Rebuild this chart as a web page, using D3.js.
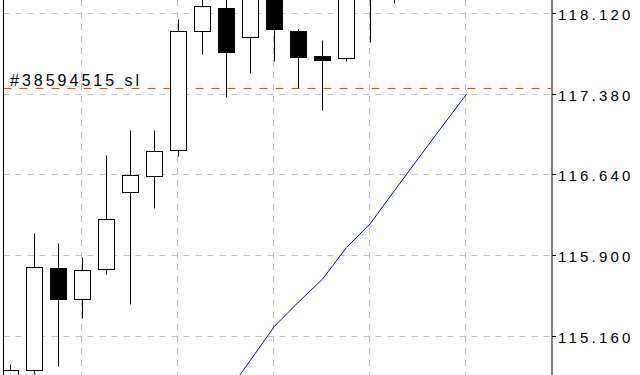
<!DOCTYPE html>
<html>
<head>
<meta charset="utf-8">
<script src="https://cdn.jsdelivr.net/npm/d3@7"></script>
<style>
html,body{margin:0;padding:0;background:#fff;}
svg{display:block;}
</style>
</head>
<body>
<svg id="chart" width="640" height="375"></svg>
<script>
// ---- data ----
const opens  = [114.660,114.847,115.777,115.491,115.767,116.476,116.623,116.863,117.958,118.172,117.903,118.300,117.961,117.731,117.710,118.400,118.600,118.800,118.950,119.100];
const highs  = [114.900,116.102,116.010,115.881,116.820,117.050,117.050,118.068,118.290,118.300,118.400,118.450,117.979,117.878,118.500,118.700,118.900,119.050,119.200,119.300];
const lows   = [114.600,114.750,114.880,115.317,115.727,115.451,116.334,116.813,117.746,117.356,117.577,117.687,117.433,117.236,117.687,117.862,118.221,118.550,118.700,118.850];
const closes = [114.847,115.786,115.491,115.758,116.228,116.635,116.854,117.958,118.188,117.770,118.320,117.973,117.724,117.694,118.400,118.600,118.800,118.950,119.100,119.200];
const maStart = 9;
const maValues = [114.629,114.933,115.246,115.468,115.678,115.969,116.191,116.492,116.790,117.086,117.378];
const tickValues = [118.120,117.380,116.640,115.900,115.160];
const tickLabels = ["118.120","117.380","116.640","115.900","115.160"];
const gridIndices = [3,7,11,15,19];
const slValue = 117.435;
const slLabel = "#38594515 sl";
const yTop = 118.244, yBottom = 114.797;

// ---- layout ----
const W = 640, H = 375;
const plotLeft = 3.5, plotRight = 551.5;
const svg = d3.select("#chart");

const x = d3.scaleLinear().domain([0, opens.length - 1]).range([10.5, 466.5]);
const y = d3.scaleLinear().domain([yBottom, yTop]).range([H, 0]);
const ry = v => Math.round(y(v)) + 0.5;

svg.append("defs").append("clipPath").attr("id","plot")
  .append("rect").attr("x", plotLeft).attr("y", 0).attr("width", plotRight - plotLeft).attr("height", H);

const g = svg.append("g").attr("clip-path","url(#plot)");

// grid
g.selectAll("line.hgrid").data(tickValues).join("line")
  .attr("x1", plotLeft).attr("x2", plotRight)
  .attr("y1", d => ry(d)).attr("y2", d => ry(d))
  .attr("stroke", "#c0c0c0").attr("stroke-width", 1).attr("stroke-dasharray", "6,6");
g.selectAll("line.vgrid").data(gridIndices).join("line")
  .attr("x1", d => x(d) - 1).attr("x2", d => x(d) - 1)
  .attr("y1", 0).attr("y2", H)
  .attr("stroke", "#c0c0c0").attr("stroke-width", 1).attr("stroke-dasharray", "6,6");

// stop loss line
g.append("line")
  .attr("x1", plotLeft).attr("x2", plotRight)
  .attr("y1", ry(slValue)).attr("y2", ry(slValue))
  .attr("stroke", "#ff4500").attr("stroke-width", 1).attr("stroke-dasharray", "8,8");

// candles
const idx = d3.range(opens.length);
const cg = g.append("g");
cg.selectAll("line.wick").data(idx).join("line")
  .attr("x1", i => x(i)).attr("x2", i => x(i))
  .attr("y1", i => ry(highs[i])).attr("y2", i => ry(lows[i]))
  .attr("stroke", "#000").attr("stroke-width", 1);
cg.selectAll("rect.body").data(idx).join("rect")
  .attr("x", i => x(i) - 8)
  .attr("width", 16)
  .attr("y", i => ry(Math.max(opens[i], closes[i])))
  .attr("height", i => Math.max(1, ry(Math.min(opens[i], closes[i])) - ry(Math.max(opens[i], closes[i]))))
  .attr("fill", i => closes[i] >= opens[i] ? "#fff" : "#000")
  .attr("stroke", "#000").attr("stroke-width", 1);

// moving average
const line = d3.line().x((d, k) => x(maStart + k)).y(d => y(d));
g.append("path").datum(maValues)
  .attr("d", line).attr("fill", "none")
  .attr("stroke", "#0000ff").attr("stroke-width", 1);

// SL label
svg.append("text")
  .attr("x", 10).attr("y", ry(slValue) - 3)
  .attr("font-family", "'Liberation Sans', Arial, sans-serif")
  .attr("font-size", 16).attr("letter-spacing", 3)
  .attr("fill", "#000")
  .text(slLabel);

// left border
svg.append("line").attr("x1", plotLeft).attr("x2", plotLeft).attr("y1", 0).attr("y2", H)
  .attr("stroke", "#000").attr("stroke-width", 1);

// right axis
const axis = d3.axisRight(y).tickValues(tickValues)
  .tickFormat((d, k) => tickLabels[k]).tickSize(4).tickPadding(3);
const ag = svg.append("g").attr("transform", `translate(${plotRight},0)`).call(axis);
ag.select(".domain").attr("d", `M0.5,0V${H}`).attr("stroke", "#000");
ag.selectAll(".tick").attr("transform", d => `translate(0,${ry(d)})`);
ag.selectAll(".tick line").attr("stroke", "#000").attr("x1", 0.5).attr("x2", 4.5);
ag.selectAll(".tick text")
  .attr("x", 6.5).attr("dy", "6.5")
  .attr("font-family", "'Liberation Sans', Arial, sans-serif")
  .attr("font-size", 15).attr("letter-spacing", 3.2)
  .attr("fill", "#000");
</script>
</body>
</html>
